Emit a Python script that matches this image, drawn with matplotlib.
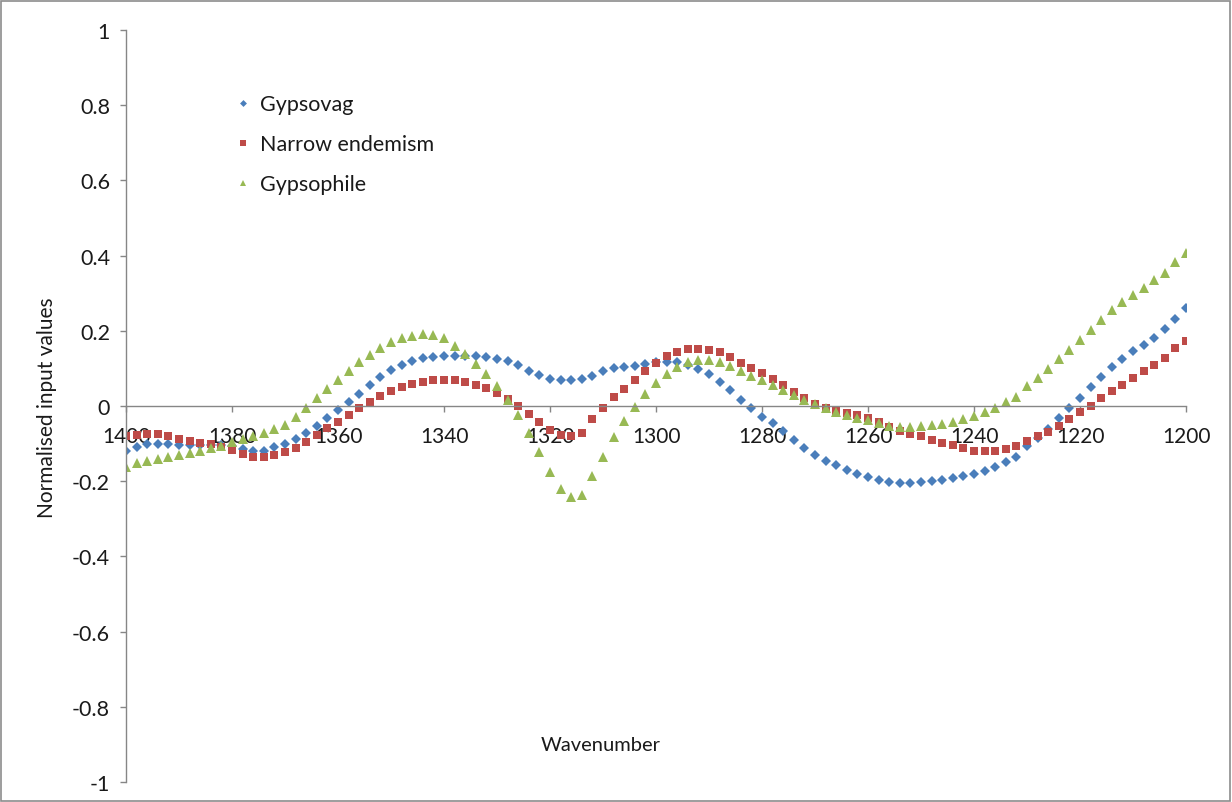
import numpy as np
import matplotlib
matplotlib.use('Agg')
import matplotlib.pyplot as plt
from matplotlib.patches import Rectangle
from matplotlib.ticker import FuncFormatter

plt.rcParams['font.family'] = ['Lato', 'DejaVu Sans']

# Wavenumber grid (1400 -> 1200, step 2)
wavenumber = list(range(1400, 1199, -2))

gypsovag = [
    -0.12, -0.11, -0.10, -0.10, -0.10, -0.105, -0.105, -0.105, -0.105, -0.105,
    -0.107, -0.115, -0.12, -0.12, -0.11, -0.10, -0.088, -0.072, -0.053, -0.032,
    -0.01, 0.01, 0.032, 0.056, 0.077, 0.096, 0.109, 0.12, 0.127, 0.13,
    0.132, 0.133, 0.133, 0.132, 0.13, 0.126, 0.12, 0.108, 0.094, 0.082,
    0.073, 0.068, 0.068, 0.072, 0.08, 0.094, 0.1, 0.103, 0.107, 0.113,
    0.118, 0.117, 0.118, 0.109, 0.098, 0.085, 0.064, 0.043, 0.015, -0.005,
    -0.028, -0.046, -0.067, -0.09, -0.113, -0.13, -0.145, -0.158, -0.17, -0.18,
    -0.19, -0.196, -0.201, -0.204, -0.204, -0.202, -0.2, -0.197, -0.192, -0.187,
    -0.18, -0.173, -0.162, -0.149, -0.135, -0.106, -0.085, -0.06, -0.033, -0.005,
    0.022, 0.05, 0.078, 0.104, 0.126, 0.145, 0.161, 0.18, 0.205, 0.231,
    0.26]

narrow_endemism = [
    -0.08, -0.076, -0.074, -0.074, -0.08, -0.087, -0.093, -0.098, -0.102, -0.108,
    -0.116, -0.127, -0.135, -0.135, -0.129, -0.123, -0.112, -0.095, -0.077, -0.059,
    -0.042, -0.024, -0.005, 0.011, 0.027, 0.04, 0.05, 0.058, 0.064, 0.069,
    0.069, 0.068, 0.064, 0.057, 0.048, 0.035, 0.018, 0.001, -0.02, -0.043,
    -0.064, -0.077, -0.081, -0.072, -0.035, -0.005, 0.024, 0.045, 0.069, 0.093,
    0.114, 0.133, 0.144, 0.151, 0.152, 0.149, 0.143, 0.13, 0.114, 0.1,
    0.088, 0.073, 0.056, 0.038, 0.021, 0.006, -0.004, -0.012, -0.019, -0.024,
    -0.032, -0.042, -0.055, -0.066, -0.074, -0.081, -0.09, -0.098, -0.105, -0.112,
    -0.119, -0.119, -0.119, -0.115, -0.106, -0.093, -0.081, -0.068, -0.052, -0.035,
    -0.017, 0.001, 0.021, 0.039, 0.057, 0.075, 0.093, 0.11, 0.128, 0.153,
    0.172]

gypsophile = [
    -0.162, -0.152, -0.146, -0.14, -0.135, -0.13, -0.125, -0.12, -0.113, -0.106,
    -0.096, -0.087, -0.081, -0.073, -0.062, -0.05, -0.03, -0.005, 0.021, 0.045,
    0.069, 0.093, 0.117, 0.136, 0.154, 0.17, 0.181, 0.186, 0.191, 0.189,
    0.18, 0.16, 0.138, 0.113, 0.085, 0.052, 0.016, -0.025, -0.072, -0.122,
    -0.175, -0.22, -0.243, -0.238, -0.186, -0.135, -0.082, -0.04, -0.003, 0.032,
    0.061, 0.085, 0.104, 0.117, 0.122, 0.122, 0.117, 0.107, 0.092, 0.081,
    0.069, 0.057, 0.043, 0.03, 0.017, 0.005, -0.004, -0.016, -0.024, -0.031,
    -0.038, -0.045, -0.053, -0.055, -0.055, -0.053, -0.05, -0.048, -0.042, -0.035,
    -0.027, -0.016, -0.005, 0.01, 0.024, 0.053, 0.075, 0.098, 0.124, 0.149,
    0.176, 0.203, 0.228, 0.254, 0.276, 0.296, 0.315, 0.334, 0.353, 0.382,
    0.406]

series_names = ['Gypsovag', 'Narrow endemism', 'Gypsophile']
x_ticks = [1400, 1380, 1360, 1340, 1320, 1300, 1280, 1260, 1240, 1220, 1200]
y_ticks = [-1, -0.8, -0.6, -0.4, -0.2, 0, 0.2, 0.4, 0.6, 0.8, 1]

axis_grey = '#868686'
text_col = '#1a1a1a'

# Figure + axes placed to match the Excel layout
fig = plt.figure(figsize=(12.32, 8.03), dpi=100)
ax = fig.add_axes([0.1023, 0.0249, 0.8604, 0.9365])

ax.plot(wavenumber, gypsovag, linestyle='none', marker='D', markersize=5.0,
        color='#4A7EBB', markeredgewidth=0, label=series_names[0])
ax.plot(wavenumber, narrow_endemism, linestyle='none', marker='s', markersize=6.0,
        color='#BE4B48', markeredgewidth=0, label=series_names[1])
ax.plot(wavenumber, gypsophile, linestyle='none', marker='^', markersize=6.8,
        color='#98B954', markeredgewidth=0, label=series_names[2])

ax.set_xlim(1400, 1200)
ax.set_ylim(-1, 1)

# Axis lines: y-axis on the left, x-axis crossing at zero
for s in ['top', 'right']:
    ax.spines[s].set_visible(False)
ax.spines['left'].set_color(axis_grey)
ax.spines['bottom'].set_color(axis_grey)
ax.spines['bottom'].set_position(('data', 0))
ax.spines['left'].set_linewidth(1.0)
ax.spines['bottom'].set_linewidth(1.0)

ax.set_xticks(x_ticks)
ax.set_yticks(y_ticks)
ax.yaxis.set_major_formatter(FuncFormatter(lambda v, p: '%g' % round(v, 1)))
ax.tick_params(axis='x', direction='out', length=4.5, width=1, color=axis_grey,
               labelsize=15, pad=10, labelcolor=text_col)
ax.tick_params(axis='y', direction='out', length=4.5, width=1, color=axis_grey,
               labelsize=15.5, pad=7, labelcolor=text_col)

# Axis titles
fig.text(47 / 1232, 1 - 408 / 803, 'Normalised input values', rotation=90,
         ha='center', va='center', fontsize=15, color=text_col)
fig.text(601 / 1232, 1 - 746 / 803, 'Wavenumber', ha='center', va='center',
         fontsize=14.5, color=text_col)

leg = ax.legend(loc='upper left', bbox_to_anchor=(0.086, 0.94), frameon=False,
                fontsize=15.5, markerscale=0.7, handlelength=0.6, handletextpad=0.5,
                labelspacing=0.92)
for t in leg.get_texts():
    t.set_color(text_col)

# Outer chart border
fig.patches.append(Rectangle((0.001, 0.001), 0.997, 0.997, transform=fig.transFigure,
                             fill=False, edgecolor='#8c8c8c', linewidth=1.2))

fig.savefig('out.png', dpi=100)
